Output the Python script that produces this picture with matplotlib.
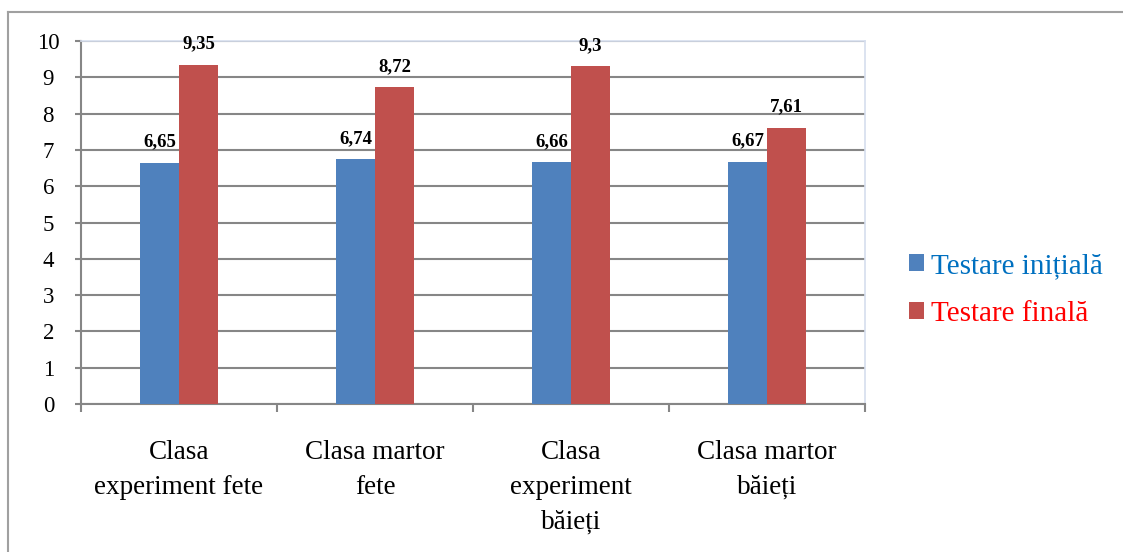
import numpy as np
import matplotlib
matplotlib.use("Agg")
import matplotlib.pyplot as plt
from matplotlib.patches import Patch
from matplotlib.lines import Line2D

plt.rcParams['font.family'] = ['Liberation Serif', 'DejaVu Serif']

categories = ['Clasa\nexperiment fete', 'Clasa martor\nfete',
              'Clasa\nexperiment\nbăieți', 'Clasa martor\nbăieți']
initiala = [6.65, 6.74, 6.66, 6.67]
finala = [9.35, 8.72, 9.3, 7.61]
initiala_txt = ['6,65', '6,74', '6,66', '6,67']
finala_txt = ['9,35', '8,72', '9,3', '7,61']
series_names = ['Testare inițială', 'Testare finală']

blue = '#4F81BD'
red = '#C0504D'
grid_col = '#868686'

fig = plt.figure(figsize=(11.23, 5.52), dpi=100)
ax = fig.add_axes([0.0721, 0.2681, 0.6982, 0.6576])

x = np.arange(len(categories))
w = 0.2
b1 = ax.bar(x - w/2, initiala, w, color=blue, zorder=3)
b2 = ax.bar(x + w/2, finala, w, color=red, zorder=3)

for bars, txt in ((b1, initiala_txt), (b2, finala_txt)):
    for rect, t in zip(bars, txt):
        ax.annotate(t, (rect.get_x() + rect.get_width()/2, rect.get_height()),
                    xytext=(0, 9), textcoords='offset points',
                    ha='center', va='bottom', fontsize=13.5, fontweight='bold')

ax.set_xlim(-0.5, len(categories) - 0.5)
ax.set_ylim(0, 10)
ax.set_yticks(range(0, 11))
ax.yaxis.grid(True, color=grid_col, linewidth=1.5, zorder=0)
ax.set_axisbelow(True)

# category names in the middle, tick marks on the boundaries
ax.set_xticks(x)
ax.set_xticklabels(categories, fontsize=19.5, linespacing=1.5)
ax.set_xticks(np.arange(-0.5, len(categories)), minor=True)
ax.tick_params(axis='x', which='major', length=0, pad=26)
ax.tick_params(axis='x', which='minor', length=6, width=1.5, color=grid_col)
ax.tick_params(axis='y', length=4, width=1.5, color=grid_col, labelsize=16.5, pad=19.5)
for lab in ax.get_yticklabels():
    lab.set_horizontalalignment('center')

for side in ('top', 'right'):
    ax.spines[side].set_color('#D6DEEE')
    ax.spines[side].set_linewidth(1.2)
for side in ('left', 'bottom'):
    ax.spines[side].set_color(grid_col)
    ax.spines[side].set_linewidth(1.5)

handles = [Patch(facecolor=blue), Patch(facecolor=red)]
leg = fig.legend(handles, series_names, loc='center left',
                 bbox_to_anchor=(0.786, 0.475), frameon=False, fontsize=21,
                 handlelength=0.5, handleheight=0.5, handletextpad=0.25,
                 labelspacing=0.75)
leg.get_texts()[0].set_color('#0070C0')
leg.get_texts()[1].set_color('#FF0000')

# outer chart border (left and top edges)
fig.add_artist(Line2D([8/1123, 8/1123], [0, 1 - 12/552], transform=fig.transFigure,
                      color='#A0A0A0', linewidth=1.5))
fig.add_artist(Line2D([8/1123, 1], [1 - 12/552, 1 - 12/552], transform=fig.transFigure,
                      color='#A0A0A0', linewidth=1.5))

fig.savefig('out.png', dpi=100)
